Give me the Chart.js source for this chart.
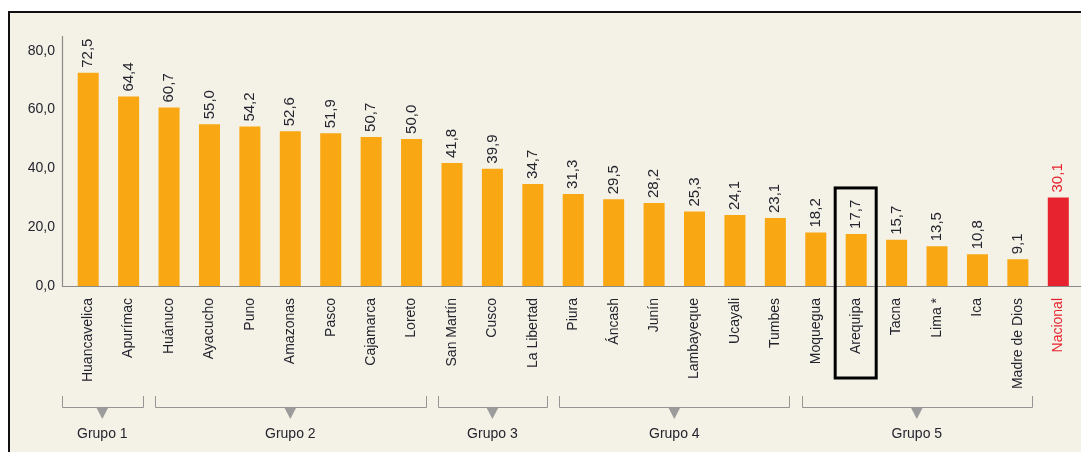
<!DOCTYPE html>
<html>
<head>
<meta charset="utf-8">
<script src="https://cdn.jsdelivr.net/npm/chart.js@4.4.1/dist/chart.umd.min.js"></script>
<style>
  html, body { margin: 0; padding: 0; background: #ffffff; }
  #c { display: block; }
</style>
</head>
<body>
<canvas id="c" width="1081" height="452"></canvas>
<script>
// ---- data ----
const categories = ['Huancavelica','Apurímac','Huánuco','Ayacucho','Puno','Amazonas','Pasco','Cajamarca','Loreto','San Martín','Cusco','La Libertad','Piura','Áncash','Junín','Lambayeque','Ucayali','Tumbes','Moquegua','Arequipa','Tacna','Lima *','Ica','Madre de Dios','Nacional'];
const values = [72.5,64.4,60.7,55.0,54.2,52.6,51.9,50.7,50.0,41.8,39.9,34.7,31.3,29.5,28.2,25.3,24.1,23.1,18.2,17.7,15.7,13.5,10.8,9.1,30.1];
const groupLabels = ['Grupo 1','Grupo 2','Grupo 3','Grupo 4','Grupo 5'];
const groupStart = [0,2,9,12,18];
const groupEnd = [1,8,11,17,23];
const totalCategory = 'Nacional';
const highlightCategory = 'Arequipa';
const yMax = 85;
const yStep = 20;

// ---- styles ----
const ORANGE = '#f9a712';
const RED = '#e6232e';
const BG = '#f4f2e6';
const TEXT = '#24242f';
const AXIS = '#8a8a8a';
const FONT = "'Liberation Sans', Arial, sans-serif";

const fmt = v => v.toFixed(1).replace('.', ',');

const bgPlugin = {
  id: 'bg',
  beforeDraw(chart) {
    const c = chart.ctx;
    c.save();
    c.fillStyle = '#ffffff';
    c.fillRect(0, 0, chart.width, chart.height);
    c.fillStyle = BG;
    c.fillRect(10, 13, chart.width - 10, chart.height - 13);
    c.fillStyle = '#111111';
    c.fillRect(8, 11, chart.width - 8, 2);
    c.fillRect(8, 11, 2, chart.height - 11);
    c.restore();
  }
};

const axisPlugin = {
  id: 'axes',
  beforeDatasetsDraw(chart) {
    const c = chart.ctx, a = chart.chartArea;
    const x0 = Math.round(a.left - 6) + 0.5;
    const yb = Math.round(a.bottom) + 0.5;
    c.save();
    c.strokeStyle = AXIS;
    c.lineWidth = 1.2;
    c.beginPath();
    c.moveTo(x0, a.top);
    c.lineTo(x0, yb);
    c.lineTo(chart.width, yb);
    c.stroke();
    c.restore();
  }
};

const labelPlugin = {
  id: 'vals',
  afterDatasetsDraw(chart) {
    const c = chart.ctx;
    const meta = chart.getDatasetMeta(0);
    c.save();
    c.font = '15px ' + FONT;
    c.textAlign = 'left';
    c.textBaseline = 'middle';
    meta.data.forEach((bar, i) => {
      c.save();
      c.translate(bar.x, bar.y - 5);
      c.rotate(-Math.PI / 2);
      c.fillStyle = categories[i] === totalCategory ? RED : TEXT;
      c.fillText(fmt(values[i]), 0, 0);
      c.restore();
    });
    c.restore();
  }
};

const groupPlugin = {
  id: 'groups',
  afterDraw(chart) {
    const c = chart.ctx, a = chart.chartArea;
    const xs = chart.scales.x;
    const b = a.bottom;
    c.save();
    groupLabels.forEach((g, k) => {
      const x1 = groupStart[k] === 0 ? a.left - 6 : xs.getPixelForValue(groupStart[k]) - 14;
      const x2 = xs.getPixelForValue(groupEnd[k]) + 14;
      const yl = Math.round(b + 121) + 0.5;
      c.strokeStyle = '#959595';
      c.lineWidth = 1;
      c.beginPath();
      c.moveTo(Math.round(x1) + 0.5, b + 110);
      c.lineTo(Math.round(x1) + 0.5, yl);
      c.lineTo(Math.round(x2) + 0.5, yl);
      c.lineTo(Math.round(x2) + 0.5, b + 110);
      c.stroke();
      const xm = (x1 + x2) / 2;
      c.fillStyle = '#9b9b9b';
      c.beginPath();
      c.moveTo(xm - 6, yl);
      c.lineTo(xm + 6, yl);
      c.lineTo(xm, b + 133);
      c.closePath();
      c.fill();
      c.fillStyle = TEXT;
      c.font = '14px ' + FONT;
      c.textAlign = 'center';
      c.textBaseline = 'alphabetic';
      c.fillText(g, xm, b + 152);
    });
    // highlight box around one category
    const hi = categories.indexOf(highlightCategory);
    const bar = chart.getDatasetMeta(0).data[hi];
    c.strokeStyle = '#000000';
    c.lineWidth = 3;
    c.strokeRect(bar.x - 21, bar.y - 46, 41, (b + 92) - (bar.y - 46));
    c.restore();
  }
};

new Chart(document.getElementById('c'), {
  type: 'bar',
  data: {
    labels: categories,
    datasets: [{
      data: values,
      backgroundColor: categories.map(cat => cat === totalCategory ? RED : ORANGE),
      borderWidth: 0,
      barPercentage: 1,
      categoryPercentage: 0.52
    }]
  },
  options: {
    responsive: false,
    animation: false,
    devicePixelRatio: 1,
    layout: { padding: { left: 0, right: 2.5, top: 36, bottom: 0 } },
    plugins: { legend: { display: false }, tooltip: { enabled: false } },
    scales: {
      x: {
        grid: { display: false, drawTicks: false },
        border: { display: false },
        ticks: {
          autoSkip: false,
          minRotation: 90,
          maxRotation: 90,
          padding: 12,
          font: { size: 14, family: FONT },
          color: ctx => categories[ctx.index] === totalCategory ? RED : TEXT
        },
        afterFit: s => { s.height = 166; s.paddingRight = 0; s.paddingLeft = 0; }
      },
      y: {
        min: 0,
        max: yMax,
        grid: { display: false, drawTicks: false },
        border: { display: false },
        ticks: {
          stepSize: yStep,
          includeBounds: false,
          padding: 13,
          callback: v => (v % yStep === 0 ? fmt(v) : ''),
          font: { size: 14, family: FONT },
          color: TEXT
        },
        afterFit: s => { s.width = 68; }
      }
    }
  },
  plugins: [bgPlugin, axisPlugin, labelPlugin, groupPlugin]
});
</script>
</body>
</html>
